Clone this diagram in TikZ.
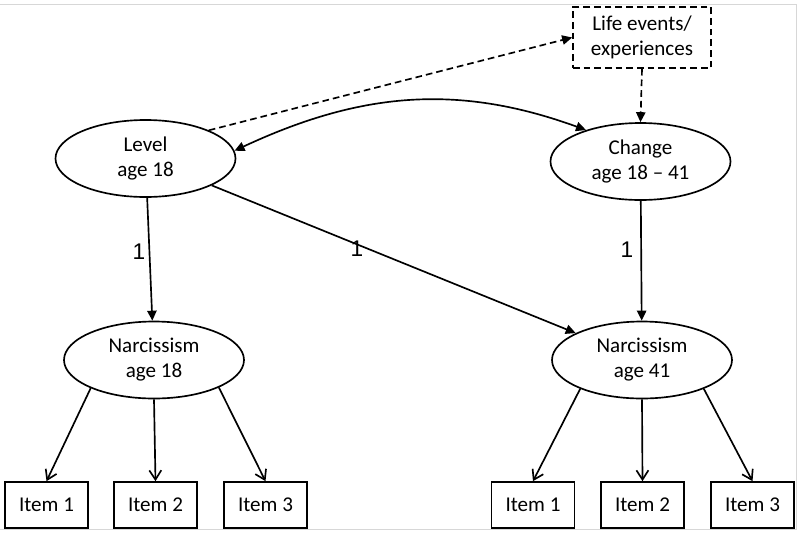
\documentclass[tikz,border=0pt]{standalone}
\usepackage{fontspec}
\setmainfont{Carlito}
\newfontfamily\weightfont{Liberation Sans}
\usetikzlibrary{shapes.geometric,arrows.meta}

\tikzset{every picture/.style={line width=1.25pt}}
\tikzset{
  latent/.style={draw,ellipse,minimum width=135pt,minimum height=57.75pt,inner sep=0pt,align=center,font=\fontsize{15.8}{18.75}\selectfont},
  itembox/.style={draw,rectangle,minimum width=62.25pt,minimum height=34.5pt,inner sep=0pt,font=\fontsize{15.8}{18.75}\selectfont},
  eventbox/.style={draw,rectangle,dash pattern=on 5pt off 3pt,minimum width=103.5pt,minimum height=45.75pt,inner sep=0pt,align=center,font=\fontsize{15.8}{18.75}\selectfont},
  dashlink/.style={dash pattern=on 5pt off 3pt},
  loading/.style={-{Straight Barb[length=7pt,width=9pt]}},
  weight/.style={inner sep=0pt,font=\weightfont\fontsize{17}{20}\selectfont}
}

\begin{document}
\begin{tikzpicture}[x=0.75pt,y=0.75pt,yscale=-1,xscale=1,>={Triangle[length=7.5pt,width=7pt]}]
\useasboundingbox (0,0) rectangle (800,533);

%Frame
\draw [color={rgb, 255:red, 215; green, 215; blue, 215 }, line width=0.75pt] (0,4) -- (796,4) -- (796,529) -- (0,529) ;

%Shape: Ellipse [id:level]
\node [latent] (level) at (145.5,158.5) {Level\\age 18};
%Shape: Ellipse [id:change]
\node [latent] (change) at (640.5,161.5) {Change\\age 18 -- 41};
%Shape: Rectangle [id:life]
\node [eventbox] (life) at (642,37.5) {Life events/\\experiences};
%Shape: Ellipse [id:narc18]
\node [latent] (narc18) at (154,360) {Narcissism\\age 18};
%Shape: Ellipse [id:narc41]
\node [latent] (narc41) at (642,360) {Narcissism\\age 41};

%Shape: Rectangle [id:items]
\node [itembox] (a1) at (46.5,505) {Item 1};
\node [itembox] (a2) at (155.5,505) {Item 2};
\node [itembox] (a3) at (265.5,505) {Item 3};
\node [itembox] (b1) at (533,505) {Item 1};
\node [itembox] (b2) at (642.5,505) {Item 2};
\node [itembox] (b3) at (752.5,505) {Item 3};

%Straight Lines
\draw [->] (level) -- (narc18) ;
\draw [->] (level) -- (narc41) ;
\draw [->] (change) -- (narc41) ;
%Curve Lines
\draw [<->] (level.5) to [out=-25,in=-160] (change.150) ;
%Dashed Lines
\draw [->,dashlink] (level.24) -- (life.west) ;
\draw [->,dashlink] (life.south) -- (change.north) ;

%Loadings
\draw [loading] (narc18.204) -- (a1.north) ;
\draw [loading] (narc18.south) -- (a2.north) ;
\draw [loading] (narc18.337) -- (a3.north) ;
\draw [loading] (narc41.205) -- (b1.north) ;
\draw [loading] (narc41.south) -- (b2.north) ;
\draw [loading] (narc41.335) -- (b3.north) ;

% Text Node
\node [weight] (w1) at (139,252) {1};
% Text Node
\node [weight] (w2) at (357,249) {1};
% Text Node
\node [weight] (w3) at (627,250) {1};

\end{tikzpicture}
\end{document}
